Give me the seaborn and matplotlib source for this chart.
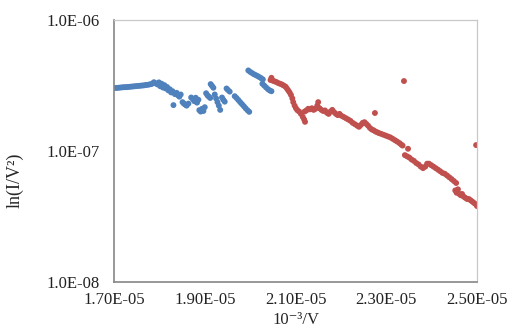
import numpy as np
import pandas as pd
import seaborn as sns
import matplotlib
matplotlib.use("Agg")
import matplotlib.pyplot as plt
from matplotlib.ticker import FixedLocator, NullLocator

# values: x in units of 1e-5, y in units of 1e-7
blue_x = [1.698, 1.702, 1.706, 1.710, 1.714, 1.718, 1.722, 1.726, 1.730, 1.734,
          1.738, 1.742, 1.746, 1.750, 1.754, 1.758, 1.762, 1.766, 1.770, 1.774,
          1.778, 1.782, 1.785, 1.788,
          1.792, 1.796, 1.799, 1.802, 1.805, 1.808, 1.811, 1.814, 1.817, 1.820,
          1.823, 1.826, 1.829, 1.831, 1.834, 1.838, 1.841, 1.844, 1.847, 1.851,
          1.854, 1.857, 1.860, 1.864, 1.870, 1.874, 1.877, 1.880, 1.883, 1.886,
          1.888, 1.891, 1.894, 1.897, 1.900, 1.903, 1.906, 1.909, 1.912, 1.913,
          1.916, 1.919, 1.922, 1.925, 1.928, 1.931, 1.934, 1.938, 1.941, 1.944,
          1.948, 1.951, 1.955, 1.966, 1.970, 1.974, 1.978, 1.982, 1.986, 1.990,
          1.994, 1.998, 1.996, 2.000, 2.004, 2.008, 2.012, 2.016, 2.020, 2.024,
          2.028, 2.027, 2.031, 2.035, 2.039, 2.043, 2.047]
blue_y = [3.02, 3.03, 3.03, 3.04, 3.05, 3.06, 3.07, 3.07, 3.08, 3.09,
          3.10, 3.11, 3.12, 3.13, 3.14, 3.15, 3.16, 3.17, 3.19, 3.20,
          3.22, 3.24, 3.28, 3.35,
          3.28, 3.22, 3.34, 3.12, 3.26, 3.05, 3.18, 3.00, 3.08, 2.90,
          2.96, 2.80, 2.86, 2.24, 2.72, 2.78, 2.66, 2.60, 2.70, 2.36,
          2.30, 2.26, 2.22, 2.30, 2.56, 2.48, 2.40, 2.55, 2.34, 2.46,
          2.05, 2.00, 2.10, 2.02, 2.16, 2.76, 2.66, 2.60, 2.54, 3.24,
          3.14, 3.04, 2.70, 2.52, 2.36, 2.22, 2.06, 2.56, 2.46, 2.38,
          3.00, 2.92, 2.84, 2.62, 2.54, 2.45, 2.36, 2.28, 2.20, 2.12,
          2.05, 1.99, 4.12, 4.02, 3.94, 3.86, 3.80, 3.74, 3.67, 3.60,
          3.52, 3.26, 3.16, 3.06, 2.97, 2.90, 2.86]

red_x = [2.045, 2.047, 2.050, 2.054, 2.058, 2.062, 2.066, 2.070, 2.074, 2.078,
         2.081, 2.084, 2.087, 2.090, 2.093, 2.095, 2.098, 2.101, 2.104, 2.108,
         2.112, 2.116, 2.119, 2.121, 2.120, 2.124, 2.128, 2.132, 2.136, 2.140,
         2.144, 2.148, 2.150, 2.153, 2.157, 2.161, 2.165, 2.169, 2.173, 2.177,
         2.181, 2.185, 2.189, 2.193, 2.197, 2.201, 2.206, 2.211, 2.216, 2.221,
         2.226, 2.231, 2.236, 2.240, 2.244, 2.248, 2.252, 2.256, 2.260, 2.264,
         2.268, 2.272, 2.276, 2.280, 2.275, 2.284, 2.289, 2.294, 2.299, 2.304,
         2.309, 2.314, 2.319, 2.324, 2.329, 2.333, 2.336, 2.339, 2.348, 2.341,
         2.346, 2.351, 2.356, 2.361, 2.366, 2.371, 2.376, 2.381, 2.386, 2.390,
         2.394, 2.399, 2.404, 2.409, 2.414, 2.419, 2.424, 2.429, 2.434, 2.439,
         2.444, 2.449, 2.454, 2.452, 2.455, 2.458, 2.461, 2.464, 2.467, 2.470,
         2.474, 2.478, 2.482, 2.486, 2.490, 2.494, 2.498, 2.500, 2.498]
red_y = [3.48, 3.62, 3.44, 3.40, 3.36, 3.30, 3.26, 3.22, 3.16, 3.10,
         3.00, 2.90, 2.80, 2.68, 2.52, 2.36, 2.22, 2.12, 2.05, 2.00,
         1.92, 1.82, 1.74, 1.67, 2.00, 2.04, 2.10, 2.08, 2.12, 2.06,
         2.10, 2.22, 2.36, 2.12, 2.06, 2.02, 2.04, 1.96, 1.92, 2.00,
         2.06, 1.98, 1.92, 1.88, 1.92, 1.86, 1.82, 1.78, 1.74, 1.70,
         1.64, 1.60, 1.56, 1.53, 1.58, 1.64, 1.66, 1.61, 1.56, 1.50,
         1.46, 1.44, 1.41, 1.39, 1.95, 1.37, 1.35, 1.33, 1.31, 1.29,
         1.27, 1.24, 1.21, 1.18, 1.15, 1.12, 1.10, 3.42, 1.04, 0.93,
         0.91, 0.89, 0.86, 0.84, 0.81, 0.79, 0.76, 0.74, 0.76, 0.80,
         0.80, 0.78, 0.76, 0.74, 0.72, 0.70, 0.68, 0.67, 0.65, 0.63,
         0.61, 0.59, 0.57, 0.50, 0.48, 0.51, 0.47, 0.46, 0.47, 0.45,
         0.44, 0.43, 0.43, 0.42, 0.41, 0.40, 0.39, 0.38, 1.11]

x_ticks = [1.70, 1.90, 2.10, 2.30, 2.50]
x_tick_labels = ["1.70E-05", "1.90E-05", "2.10E-05", "2.30E-05", "2.50E-05"]
y_ticks = [1e-8, 1e-7, 1e-6]
y_tick_labels = ["1.0E-08", "1.0E-07", "1.0E-06"]

df = pd.concat([
    pd.DataFrame({"x": np.array(blue_x) * 1e-5, "y": np.array(blue_y) * 1e-7, "series": "low"}),
    pd.DataFrame({"x": np.array(red_x) * 1e-5, "y": np.array(red_y) * 1e-7, "series": "high"}),
])

sns.set_style("white")
plt.rcParams["font.family"] = ["Liberation Serif", "DejaVu Serif"]

fig = plt.figure(figsize=(5.11, 3.31), dpi=100)
ax = fig.add_axes([0.2231, 0.148, 0.7104, 0.7916])

sns.scatterplot(data=df, x="x", y="y", hue="series",
                palette={"low": "#4F81BD", "high": "#C0504D"},
                s=18, linewidth=0, legend=False, ax=ax)

ax.set_yscale("log")
ax.set_xlim(1.70e-5, 2.50e-5)
ax.set_ylim(1e-8, 1e-6)
ax.xaxis.set_major_locator(FixedLocator([v * 1e-5 for v in x_ticks]))
ax.set_xticklabels(x_tick_labels)
ax.yaxis.set_major_locator(FixedLocator(y_ticks))
ax.yaxis.set_minor_locator(NullLocator())
ax.set_yticklabels(y_tick_labels)
ax.tick_params(length=0, labelsize=12, colors="#222222")
ax.tick_params(axis="x", pad=7)
ax.tick_params(axis="y", pad=10)

for side in ["top", "right"]:
    ax.spines[side].set_color("#C8C8C8")
    ax.spines[side].set_linewidth(0.9)
for side in ["left", "bottom"]:
    ax.spines[side].set_color("#868686")
    ax.spines[side].set_linewidth(1.2)

ax.set_xlabel("10\u207b\u00b3/V", fontsize=12)
ax.xaxis.set_label_coords(0.5, -0.115)
ax.set_ylabel("ln(I/V\u00b2)", fontsize=13)
ax.yaxis.set_label_coords(-0.248, 0.389)

fig.savefig("out.png", dpi=100)
